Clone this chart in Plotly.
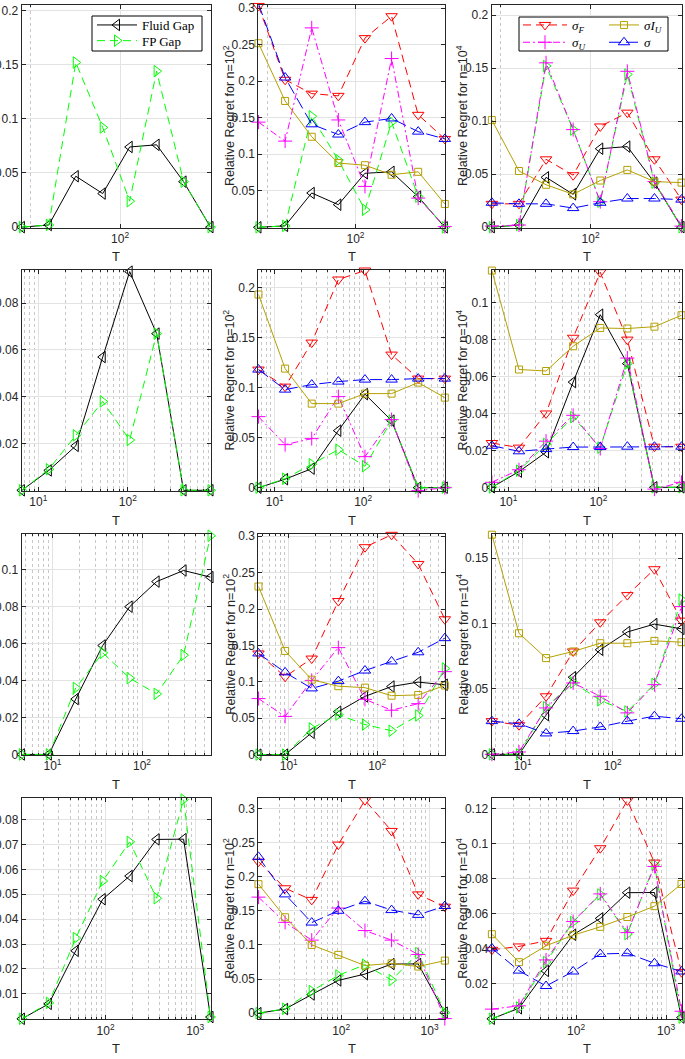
import math
import plotly.graph_objects as go

W, H = 685, 1059

# ---------------- data ----------------
T_row1 = [8, 16, 32, 64, 128, 256, 512, 1024]
T_row2 = [6.55, 13.1, 26.2, 52.4, 104.8, 209.6, 419.2, 838.4]
T_row3 = [4.55, 9.1, 18.2, 36.4, 72.8, 145.6, 291.2, 582.4]
T_row4 = [11.6, 23.2, 46.4, 92.8, 185.6, 371.2, 742.4, 1484.8]

# row 1
fluid_r1 = [0, 0.002, 0.047, 0.031, 0.074, 0.076, 0.042, 0]
fp_r1 = [0, 0.002, 0.152, 0.092, 0.024, 0.144, 0.042, 0]
sigF_n2_r1 = [0.303, 0.202, 0.183, 0.180, 0.259, 0.289, 0.154, 0.121]
sigU_n2_r1 = [0.144, 0.118, 0.273, 0.147, 0.056, 0.231, 0.040, 0.001]
sigIU_n2_r1 = [0.252, 0.173, 0.124, 0.088, 0.085, 0.072, 0.076, 0.032]
sig_n2_r1 = [0.306, 0.205, 0.141, 0.127, 0.144, 0.149, 0.131, 0.121]
sigF_n4_r1 = [0.022, 0.022, 0.064, 0.049, 0.095, 0.108, 0.064, 0.026]
sigU_n4_r1 = [0.001, 0.002, 0.155, 0.092, 0.024, 0.147, 0.043, 0.001]
sigIU_n4_r1 = [0.101, 0.053, 0.040, 0.031, 0.044, 0.054, 0.043, 0.042]
sig_n4_r1 = [0.023, 0.022, 0.022, 0.018, 0.023, 0.027, 0.027, 0.026]

# row 2
fluid_r2 = [0, 0.0085, 0.019, 0.057, 0.0935, 0.067, 0, 0]
fp_r2 = [0, 0.009, 0.0235, 0.038, 0.0215, 0.067, 0, 0]
sigF_n2_r2 = [0.118, 0.101, 0.145, 0.208, 0.217, 0.133, 0.109, 0.109]
sigU_n2_r2 = [0.071, 0.043, 0.049, 0.091, 0.031, 0.068, -0.003, 0]
sigIU_n2_r2 = [0.193, 0.119, 0.084, 0.084, 0.094, 0.094, 0.105, 0.090]
sig_n2_r2 = [0.118, 0.098, 0.103, 0.106, 0.108, 0.108, 0.109, 0.109]
sigF_n4_r2 = [0.024, 0.0215, 0.040, 0.081, 0.1165, 0.080, 0.022, 0.022]
sigU_n4_r2 = [0.0027, 0.0095, 0.025, 0.039, 0.021, 0.070, -0.001, 0.0027]
sigIU_n4_r2 = [0.1174, 0.0638, 0.063, 0.0764, 0.0863, 0.086, 0.087, 0.0932]
sig_n4_r2 = [0.0225, 0.0195, 0.0207, 0.0218, 0.0218, 0.022, 0.022, 0.022]

# row 3
fluid_r3 = [0, 0, 0.030, 0.059, 0.080, 0.0936, 0.0996, 0.096]
fp_r3 = [0, 0, 0.036, 0.055, 0.0413, 0.0328, 0.0538, 0.1184]
sigF_n2_r3 = [0.139, 0.107, 0.132, 0.211, 0.285, 0.302, 0.262, 0.186]
sigU_n2_r3 = [0.077, 0.0525, 0.102, 0.147, 0.076, 0.061, 0.070, 0.114]
sigIU_n2_r3 = [0.231, 0.1425, 0.103, 0.094, 0.092, 0.081, 0.082, 0.095]
sig_n2_r3 = [0.139, 0.113, 0.091, 0.101, 0.1155, 0.128, 0.1406, 0.160]
sigF_n4_r3 = [0.0254, 0.0223, 0.0444, 0.0787, 0.101, 0.1218, 0.1416, 0.1023]
sigU_n4_r3 = [0, 0.0018, 0.0355, 0.0546, 0.0444, 0.0317, 0.0533, 0.113]
sigIU_n4_r3 = [0.168, 0.0926, 0.0736, 0.0787, 0.085, 0.085, 0.0868, 0.0858]
sig_n4_r3 = [0.0254, 0.0234, 0.016, 0.0178, 0.021, 0.0254, 0.0292, 0.0272]

# row 4
fluid_r4 = [0, 0.006, 0.0273, 0.048, 0.0573, 0.072, 0.0721, 0.0007]
fp_r4 = [0, 0.0064, 0.0324, 0.0553, 0.071, 0.0484, 0.088, 0.0007]
sigF_n2_r4 = [0.222, 0.183, 0.166, 0.247, 0.312, 0.267, 0.174, 0.156]
sigU_n2_r4 = [0.170, 0.133, 0.107, 0.154, 0.121, 0.107, 0.086, -0.008]
sigIU_n2_r4 = [0.189, 0.1405, 0.100, 0.0854, 0.0698, 0.073, 0.0683, 0.077]
sig_n2_r4 = [0.229, 0.174, 0.1327, 0.150, 0.164, 0.151, 0.144, 0.157]
sigF_n4_r4 = [0.0394, 0.0413, 0.0445, 0.0732, 0.0974, 0.1247, 0.0892, 0.0266]
sigU_n4_r4 = [0.0055, 0.0074, 0.0336, 0.0555, 0.0713, 0.0492, 0.087, 0.0043]
sigIU_n4_r4 = [0.0483, 0.0323, 0.0417, 0.0477, 0.0525, 0.0581, 0.0643, 0.077]
sig_n4_r4 = [0.0402, 0.0275, 0.0187, 0.027, 0.037, 0.0374, 0.0317, 0.027]

x_tick_vals = [[100], [10, 100], [10, 100], [100, 1000]]
x_tick_text = [["10<sup>2</sup>"], ["10<sup>1</sup>", "10<sup>2</sup>"],
               ["10<sup>1</sup>", "10<sup>2</sup>"], ["10<sup>2</sup>", "10<sup>3</sup>"]]

# y ranges and ticks per panel (row-major)
y_ranges = [
    [-0.0005, 0.2055], [-0.0005, 0.305], [-0.0005, 0.21],
    [-0.0003, 0.0942], [-0.0033, 0.2175], [-0.002, 0.1177],
    [-0.0003, 0.1192], [-0.0005, 0.3027], [-0.0005, 0.1683],
    [-0.0002, 0.0885], [-0.009, 0.3148], [-0.0003, 0.1259],
]
y_ticks = [
    [0, 0.05, 0.1, 0.15, 0.2], [0.05, 0.1, 0.15, 0.2, 0.25, 0.3], [0, 0.05, 0.1, 0.15, 0.2],
    [0.02, 0.04, 0.06, 0.08], [0, 0.05, 0.1, 0.15, 0.2], [0, 0.02, 0.04, 0.06, 0.08, 0.1],
    [0, 0.02, 0.04, 0.06, 0.08, 0.1], [0, 0.05, 0.1, 0.15, 0.2, 0.25, 0.3], [0, 0.05, 0.1, 0.15],
    [0.01, 0.02, 0.03, 0.04, 0.05, 0.06, 0.07, 0.08], [0, 0.05, 0.1, 0.15, 0.2, 0.25, 0.3],
    [0.02, 0.04, 0.06, 0.08, 0.1, 0.12],
]

T_rows = [T_row1, T_row2, T_row3, T_row4]
fluid_rows = [fluid_r1, fluid_r2, fluid_r3, fluid_r4]
fp_rows = [fp_r1, fp_r2, fp_r3, fp_r4]
n2_rows = [
    [sigF_n2_r1, sigU_n2_r1, sigIU_n2_r1, sig_n2_r1],
    [sigF_n2_r2, sigU_n2_r2, sigIU_n2_r2, sig_n2_r2],
    [sigF_n2_r3, sigU_n2_r3, sigIU_n2_r3, sig_n2_r3],
    [sigF_n2_r4, sigU_n2_r4, sigIU_n2_r4, sig_n2_r4],
]
n4_rows = [
    [sigF_n4_r1, sigU_n4_r1, sigIU_n4_r1, sig_n4_r1],
    [sigF_n4_r2, sigU_n4_r2, sigIU_n4_r2, sig_n4_r2],
    [sigF_n4_r3, sigU_n4_r3, sigIU_n4_r3, sig_n4_r3],
    [sigF_n4_r4, sigU_n4_r4, sigIU_n4_r4, sig_n4_r4],
]

# ---------------- styles ----------------
AX = "#262626"
GRID = "#e3e3e3"
MGRID = "#c8c8c8"
SANS = "Arial, 'Liberation Sans', sans-serif"
SERIF = "'Times New Roman', 'Liberation Serif', serif"

style_fluid = dict(name="Fluid Gap", color="#000000", dash="solid", symbol="triangle-left-open", size=10)
style_fp = dict(name="FP Gap", color="#00FF00", dash="8px,5px", symbol="triangle-right-open", size=10)
sigma_styles = [
    dict(name="<i>σ<sub>F</sub></i>", color="#FF0000", dash="8px,5px", symbol="triangle-down-open", size=10),
    dict(name="<i>σ<sub>U</sub></i>", color="#FF00FF", dash="7px,3px,2px,3px", symbol="cross-thin-open", size=10),
    dict(name="<i>σI<sub>U</sub></i>", color="#B4A000", dash="solid", symbol="square-open", size=7),
    dict(name="<i>σ</i>", color="#0000FF", dash="12px,5px", symbol="triangle-up-open", size=10),
]

col_x = [(21.7, 210.7), (258.3, 445.0), (491.7, 681.7)]
row_y = [(4.5, 227.7), (270.0, 491.0), (534.3, 755.0), (798.3, 1019.3)]


def px(x):
    return x / W


def py(y):
    return 1 - y / H


fig = go.Figure()

# legend placements (one legend per item) : (key, x_px, y_px, itemwidth)
legend_pos = {
    "Fluid Gap": ("legend", 92, 25, 40),
    "FP Gap": ("legend2", 92, 40.7, 40),
    "<i>σ<sub>F</sub></i>": ("legend3", 518, 25, 44),
    "<i>σ<sub>U</sub></i>": ("legend4", 518, 42.3, 44),
    "<i>σI<sub>U</sub></i>": ("legend5", 604, 25, 30),
    "<i>σ</i>": ("legend6", 604, 42.3, 30),
}


def add_series(xs, ys, st, idx, showleg):
    xa = "x" if idx == 0 else f"x{idx + 1}"
    ya = "y" if idx == 0 else f"y{idx + 1}"
    fig.add_trace(go.Scatter(
        x=xs, y=ys, mode="lines+markers", name=st["name"],
        line=dict(color=st["color"], width=1, dash=st["dash"]),
        marker=dict(symbol=st["symbol"], size=st["size"], color=st["color"],
                    line=dict(color=st["color"], width=1)),
        xaxis=xa, yaxis=ya, cliponaxis=False,
        showlegend=showleg, legend=legend_pos[st["name"]][0],
    ))


for r in range(4):
    T = T_rows[r]
    for c in range(3):
        idx = r * 3 + c
        add_series(T, fluid_rows[r], style_fluid, idx, r == 0 and c == 0)
        add_series(T, fp_rows[r], style_fp, idx, r == 0 and c == 0)
        if c > 0:
            group = n2_rows[r] if c == 1 else n4_rows[r]
            for s, st in zip(group, sigma_styles):
                add_series(T, s, st, idx, r == 0 and c == 2)

layout = dict(
    width=W, height=H, margin=dict(l=0, r=0, t=0, b=0, autoexpand=False),
    paper_bgcolor="white", plot_bgcolor="white",
    font=dict(family=SANS, size=12, color=AX),
    annotations=[], shapes=[],
)

PAD = 0.002
for r in range(4):
    T = T_rows[r]
    lo, hi = math.log10(T[0]) - PAD, math.log10(T[-1]) + PAD
    if r == 0:
        minor_vals = [10]
    else:
        minor_vals = [k * 10 ** e for e in range(0, 4) for k in range(2, 10)]
    for c in range(3):
        idx = r * 3 + c
        sfx = "" if idx == 0 else str(idx + 1)
        x0, x1 = col_x[c]
        y0, y1 = row_y[r]
        layout["xaxis" + sfx] = dict(
            type="log", domain=[px(x0), px(x1)], range=[lo, hi], automargin=False,
            anchor="y" + sfx, tickmode="array", tickvals=x_tick_vals[r], ticktext=x_tick_text[r],
            ticks="inside", ticklen=4, tickcolor=AX, showline=True, linecolor=AX, linewidth=1,
            mirror="ticks", showgrid=True, gridcolor=GRID, gridwidth=1, zeroline=False,
            tickfont=dict(family=SANS, size=12, color=AX),
            minor=dict(tickmode="array", tickvals=minor_vals, showgrid=True,
                       gridcolor=MGRID, griddash="dot", ticks="inside", ticklen=2, tickcolor=AX),
        )
        yt = y_ticks[idx]
        layout["yaxis" + sfx] = dict(
            domain=[py(y1), py(y0)], range=y_ranges[idx], anchor="x" + sfx, automargin=False,
            tickmode="array", tickvals=yt, ticktext=[f"{v:g}" for v in yt],
            ticks="inside", ticklen=4, tickcolor=AX, showline=True, linecolor=AX, linewidth=1,
            mirror="ticks", showgrid=True, gridcolor=GRID, gridwidth=1, zeroline=False,
            tickfont=dict(family=SANS, size=12, color=AX),
        )
        # x title
        layout["annotations"].append(dict(
            text="T", x=px((x0 + x1) / 2), y=py(y1 + 29), xref="paper", yref="paper",
            showarrow=False, font=dict(family=SANS, size=13, color=AX),
            xanchor="center", yanchor="middle"))
        if c > 0:
            sup = "2" if c == 1 else "4"
            xt = 229 if c == 1 else 462
            layout["annotations"].append(dict(
                text=f"Relative Regret for n=10<sup>{sup}</sup>", textangle=-90,
                x=px(xt), y=py((y0 + y1) / 2), xref="paper", yref="paper",
                showarrow=False, font=dict(family=SANS, size=12.5, color=AX),
                xanchor="center", yanchor="middle"))

# legend boxes
for (bx0, by0, bx1, by1) in [(92, 16, 202, 51), (519, 17, 668, 51)]:
    layout["shapes"].append(dict(
        type="rect", xref="paper", yref="paper",
        x0=px(bx0), x1=px(bx1), y0=py(by1), y1=py(by0),
        line=dict(color="#000000", width=1), fillcolor="white", layer="above"))

for name, (key, lx, ly, iw) in legend_pos.items():
    layout[key] = dict(
        x=px(lx), y=py(ly), xanchor="left", yanchor="middle",
        bgcolor="rgba(0,0,0,0)", borderwidth=0, itemwidth=iw,
        font=dict(family=SERIF, size=13, color="#000000"),
        itemclick=False, itemdoubleclick=False,
    )

fig.update_layout(**layout)
fig.write_html(
    "out.html",
    config={"displayModeBar": False, "staticPlot": True},
    post_script="document.body.style.margin='0';document.body.style.overflow='hidden';",
)
